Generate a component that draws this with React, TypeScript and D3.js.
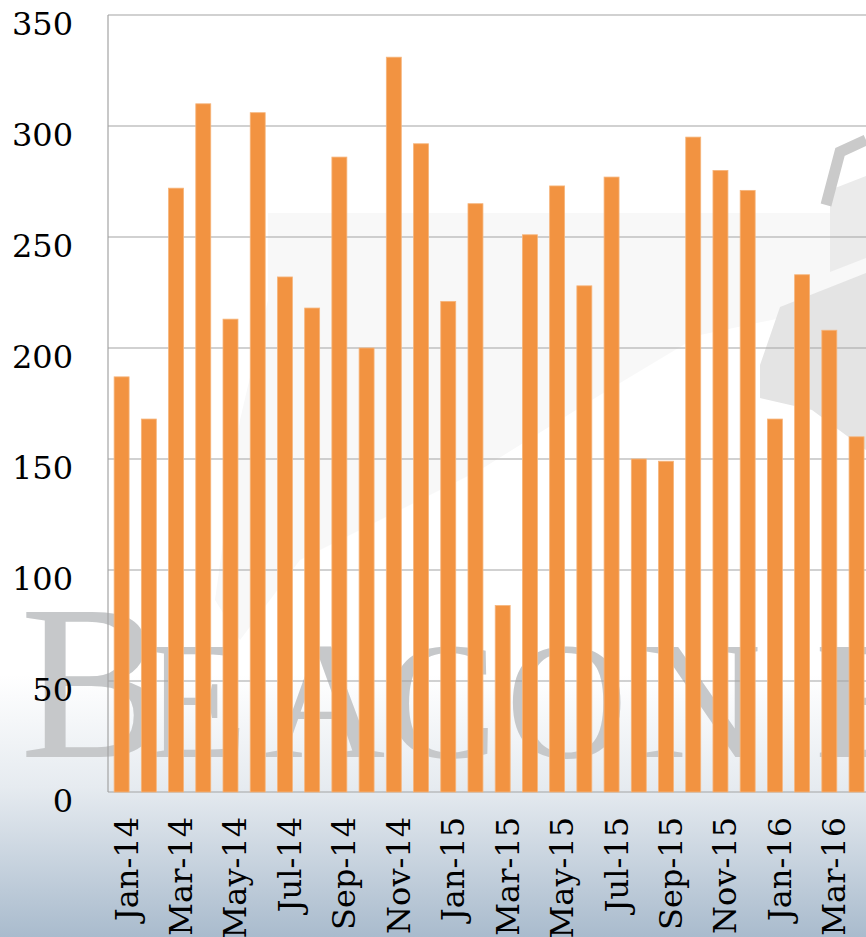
import React from "react";
import * as d3 from "d3";

const categories = [
  "Jan-14", "Feb-14", "Mar-14", "Apr-14", "May-14", "Jun-14", "Jul-14",
  "Aug-14", "Sep-14", "Oct-14", "Nov-14", "Dec-14", "Jan-15", "Feb-15",
  "Mar-15", "Apr-15", "May-15", "Jun-15", "Jul-15", "Aug-15", "Sep-15",
  "Oct-15", "Nov-15", "Dec-15", "Jan-16", "Feb-16", "Mar-16", "Apr-16",
];
const values = [
  187, 168, 272, 310, 213, 306, 232, 218, 286, 200, 331, 292, 221, 265,
  84, 251, 273, 228, 277, 150, 149, 295, 280, 271, 168, 233, 208, 160,
];
const yTicks = [0, 50, 100, 150, 200, 250, 300, 350];
const xLabelEvery = 2;

const W = 866;
const H = 937;
const left = 108;
const top = 15;
const bottom = 792;
const step = 27.22;

export default function App() {
  const x = d3
    .scaleBand<string>()
    .domain(categories)
    .range([left, left + step * categories.length])
    .paddingInner(0.45)
    .paddingOuter(0.225);
  const y = d3.scaleLinear().domain([0, 350]).range([bottom, top]);
  const font = "'DejaVu Serif', 'Liberation Serif', serif";
  const wmFont = "'Liberation Serif', 'Times New Roman', serif";

  return (
    <svg
      width={W}
      height={H}
      style={{ position: "absolute", left: 0, top: 0, display: "block" }}
    >
      <defs>
        <linearGradient id="bg" x1="0" y1="0" x2="0" y2="1">
          <stop offset="0" stopColor="#ffffff" />
          <stop offset="0.72" stopColor="#ffffff" />
          <stop offset="0.84" stopColor="#e6ebf0" />
          <stop offset="1" stopColor="#a9bbcd" />
        </linearGradient>
        <clipPath id="plotclip">
          <rect x={0} y={0} width={W} height={bottom} />
        </clipPath>
      </defs>
      <rect x={0} y={0} width={W} height={H} fill="url(#bg)" />

      {/* watermark logo */}
      <g clipPath="url(#plotclip)">
        <polygon
          points="268,213 866,213 866,300 700,335 600,395 480,470 300,560 240,640 215,600 240,420 268,300"
          fill="#f8f8f8"
        />
        <polygon
          points="760,365 780,307 866,273 866,450 812,410 760,398"
          fill="#e4e4e4"
        />
        <polygon points="830,190 866,176 866,258 830,272" fill="#ebebeb" />
        <polyline
          points="826,205 840,152 866,140"
          fill="none"
          stroke="#cacaca"
          strokeWidth={11}
        />
      </g>
      <text y={757} fill="#c6c8ca" fontFamily={wmFont}>
        <tspan x={20} fontSize={220}>B</tspan>
        <tspan x={145} fontSize={168}>E</tspan>
        <tspan x={264} fontSize={168}>A</tspan>
        <tspan x={385} fontSize={168}>C</tspan>
        <tspan x={506} fontSize={168}>O</tspan>
        <tspan x={640} fontSize={168}>N</tspan>
        <tspan x={815} fontSize={168}>E</tspan>
      </text>

      {/* gridlines */}
      {yTicks.map((t) => (
        <line
          key={t}
          x1={left}
          x2={W}
          y1={y(t)}
          y2={y(t)}
          stroke="#a3a3a3"
          strokeWidth={1.2}
        />
      ))}
      <line x1={left} x2={left} y1={top} y2={bottom} stroke="#a3a3a3" strokeWidth={1.2} />

      {/* bars */}
      {categories.map((c, i) => (
        <rect
          key={c}
          x={x(c)}
          y={y(values[i])}
          width={x.bandwidth()}
          height={bottom - y(values[i])}
          fill="#f29341"
          stroke="#f6b57c"
          strokeWidth={0.8}
        />
      ))}

      {/* y labels */}
      {yTicks.map((t) => (
        <text
          key={t}
          x={73}
          y={y(t) + 20}
          textAnchor="end"
          fontFamily={font}
          fontSize={32}
          fill="#000"
        >
          {t}
        </text>
      ))}

      {/* x labels */}
      {categories.map((c, i) =>
        i % xLabelEvery === 0 ? (
          <text
            key={c}
            transform={`translate(${(x(c) as number) + x.bandwidth() / 2},817) rotate(-90)`}
            x={0}
            y={16}
            textAnchor="end"
            fontFamily={font}
            fontSize={32}
            fill="#000"
          >
            {c}
          </text>
        ) : null
      )}
    </svg>
  );
}
